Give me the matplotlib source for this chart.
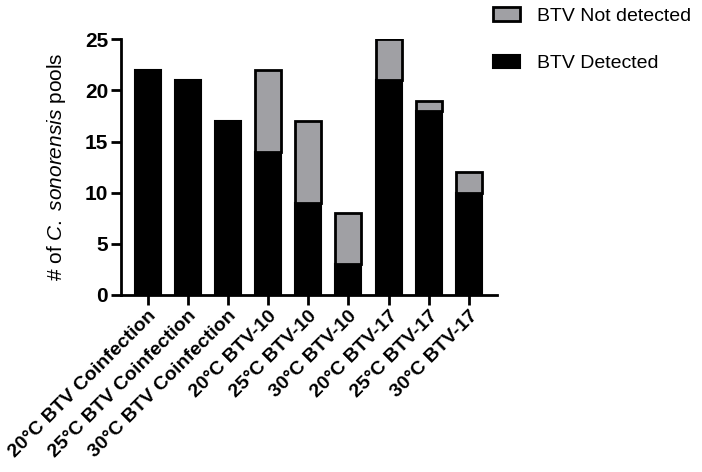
import numpy as np
import matplotlib.pyplot as plt

plt.rcParams['font.family'] = ['Liberation Sans', 'DejaVu Sans']
plt.rcParams['mathtext.fontset'] = 'custom'
plt.rcParams['mathtext.rm'] = 'Liberation Sans'
plt.rcParams['mathtext.it'] = 'Liberation Sans:italic'

# data
groups = ["20°C BTV Coinfection", "25°C BTV Coinfection", "30°C BTV Coinfection",
          "20°C BTV-10", "25°C BTV-10", "30°C BTV-10",
          "20°C BTV-17", "25°C BTV-17", "30°C BTV-17"]
detected = [22, 21, 17, 14, 9, 3, 21, 18, 10]
not_detected = [0, 0, 0, 8, 8, 5, 4, 1, 2]

fig = plt.figure(figsize=(7.02, 4.72), dpi=100)
ax = fig.add_axes([0.172, 0.375, 0.536, 0.542])

x = np.arange(len(groups))
bw = 0.65
b1 = ax.bar(x, detected, bw, color='black', edgecolor='black', linewidth=1.5,
            label='BTV Detected', zorder=2)
nd_x = [xi for xi, n in zip(x, not_detected) if n > 0]
nd_v = [n for n in not_detected if n > 0]
nd_b = [d for d, n in zip(detected, not_detected) if n > 0]
b2 = ax.bar(nd_x, nd_v, bw, bottom=nd_b, color='#a0a0a4', edgecolor='black',
            linewidth=2, label='BTV Not detected', zorder=3)

ax.set_xlim(-0.67, 8.7)
ax.set_ylim(0, 25)
ax.set_yticks([0, 5, 10, 15, 20, 25])
ax.set_xticks(x)
ax.set_xticklabels(groups, rotation=45, ha='right', rotation_mode='anchor',
                   fontsize=14, fontweight='bold')
for lab in ax.get_yticklabels():
    lab.set_fontsize(15)
    lab.set_fontweight('bold')

for s in ['top', 'right']:
    ax.spines[s].set_visible(False)
for s in ['left', 'bottom']:
    ax.spines[s].set_linewidth(2)
ax.tick_params(axis='both', width=2, length=7, pad=2)

ax.set_ylabel('# of $\\it{C.\\ sonorensis}$ pools', fontsize=15, labelpad=12)

ax.legend(handles=[b2, b1], loc='upper left', bbox_to_anchor=(493 / 702, 1 - 7 / 472),
          bbox_transform=fig.transFigure, borderaxespad=0, borderpad=0,
          frameon=False, fontsize=14, handlelength=1.4, handleheight=0.7,
          labelspacing=1.55, handletextpad=0.85)

fig.savefig('out.png', dpi=100)
